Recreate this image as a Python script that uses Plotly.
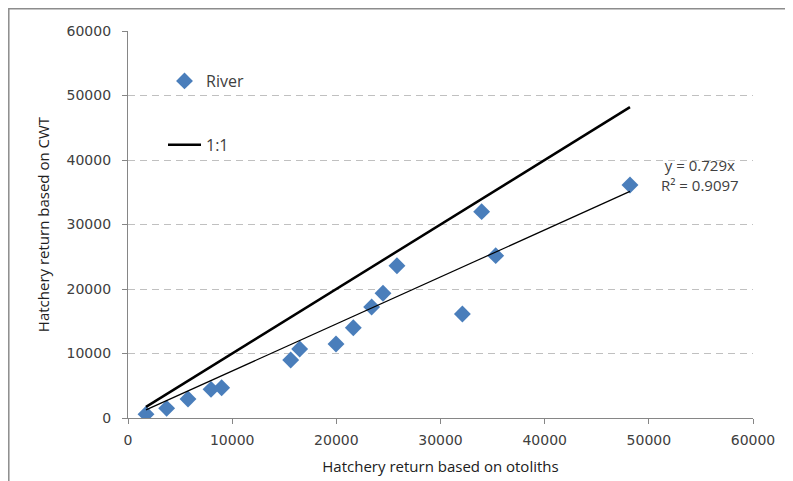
import plotly.graph_objects as go

# Data
otolith = [1730, 3710, 5760, 7970, 8990, 15620, 16480, 19970, 21630, 23390,
           24480, 25820, 32100, 33950, 35300, 48190]
cwt = [600, 1500, 2950, 4440, 4700, 8990, 10700, 11470, 14000, 17200,
       19330, 23600, 16120, 31990, 25170, 36120]
slope = 0.729
r2 = 0.9097
axis_ticks = [0, 10000, 20000, 30000, 40000, 50000, 60000]

xmin, xmax = min(otolith), max(otolith)

# page has an 8px body margin; figure coordinates = page coordinates - 8
OFF = 8
W, H = 793 - OFF, 481 - OFF
L, T = 128 - OFF, 31 - OFF
R = W - (753 - OFF)
B = H - (418 - OFF)
pw, ph = W - L - R, H - T - B


def px(xp):
    return (xp - OFF - L) / pw


def py(yp):
    return (H - B - (yp - OFF)) / ph


font = "Open Sans, Liberation Sans, sans-serif"
tickfontfam = "DejaVu Sans, Open Sans, sans-serif"
txt = "#404040"
axc = "#868686"

fig = go.Figure()
fig.add_trace(go.Scatter(
    x=otolith, y=cwt, mode="markers", name="River",
    marker=dict(symbol="diamond", size=13, color="#4a7ebb"),
    legendgroup="a"))
fig.add_trace(go.Scatter(
    x=[xmin, xmax], y=[xmin, xmax], mode="lines", name="1:1",
    line=dict(color="black", width=2.5), legendgroup="b"))
fig.add_trace(go.Scatter(
    x=[xmin, xmax], y=[slope * xmin, slope * xmax], mode="lines",
    line=dict(color="black", width=1.2), showlegend=False, hoverinfo="skip"))

fig.add_annotation(
    x=px(700), y=py(175), xref="paper", yref="paper",
    text=f"y = {slope}x<br>R² = {r2}", showarrow=False, align="center",
    font=dict(family=font, size=15, color=txt), xanchor="center", yanchor="middle")

# outer chart border (partially outside the window, as in the reference)
fig.add_shape(type="rect", xref="paper", yref="paper",
              x0=px(OFF + 0.8), x1=px(830),
              y0=py(540), y1=py(OFF + 0.8),
              line=dict(color="#8c8c8c", width=1.5), layer="below")

fig.update_layout(
    width=W, height=H, autosize=False,
    margin=dict(l=L, r=R, t=T, b=B),
    paper_bgcolor="white", plot_bgcolor="white",
    font=dict(family=font, size=14, color=txt),
    showlegend=True,
    legend=dict(x=px(163), y=py(64), xanchor="left", yanchor="top",
                bgcolor="rgba(0,0,0,0)", borderwidth=0, tracegroupgap=40,
                itemwidth=33,
                traceorder="grouped", font=dict(family=font, size=16, color=txt)),
    xaxis=dict(range=[0, 60000], tickvals=axis_ticks, tickformat="d",
               showgrid=False, zeroline=False, automargin=False,
               showline=True, linecolor=axc, linewidth=1.3,
               ticks="outside", ticklen=5, tickcolor=axc, tickwidth=1.3,
               ticklabelstandoff=4,
               tickfont=dict(family=tickfontfam, size=14, color=txt),
               title=dict(text="Hatchery return based on otoliths", standoff=14,
                          font=dict(family=font, size=15, color="#202020"))),
    yaxis=dict(range=[0, 60000], tickvals=axis_ticks, tickformat="d", showgrid=True,
               gridcolor="#c0c0c0", griddash="7px,5px", gridwidth=1.3, zeroline=False,
               automargin=False,
               showline=True, linecolor=axc, linewidth=1.3,
               ticks="outside", ticklen=5, tickcolor=axc, tickwidth=1.3,
               ticklabelstandoff=8,
               tickfont=dict(family=tickfontfam, size=14, color=txt),
               title=dict(text="Hatchery return based on CWT", standoff=13,
                          font=dict(family=font, size=15, color="#202020"))),
)

fig.write_html("out.html")
